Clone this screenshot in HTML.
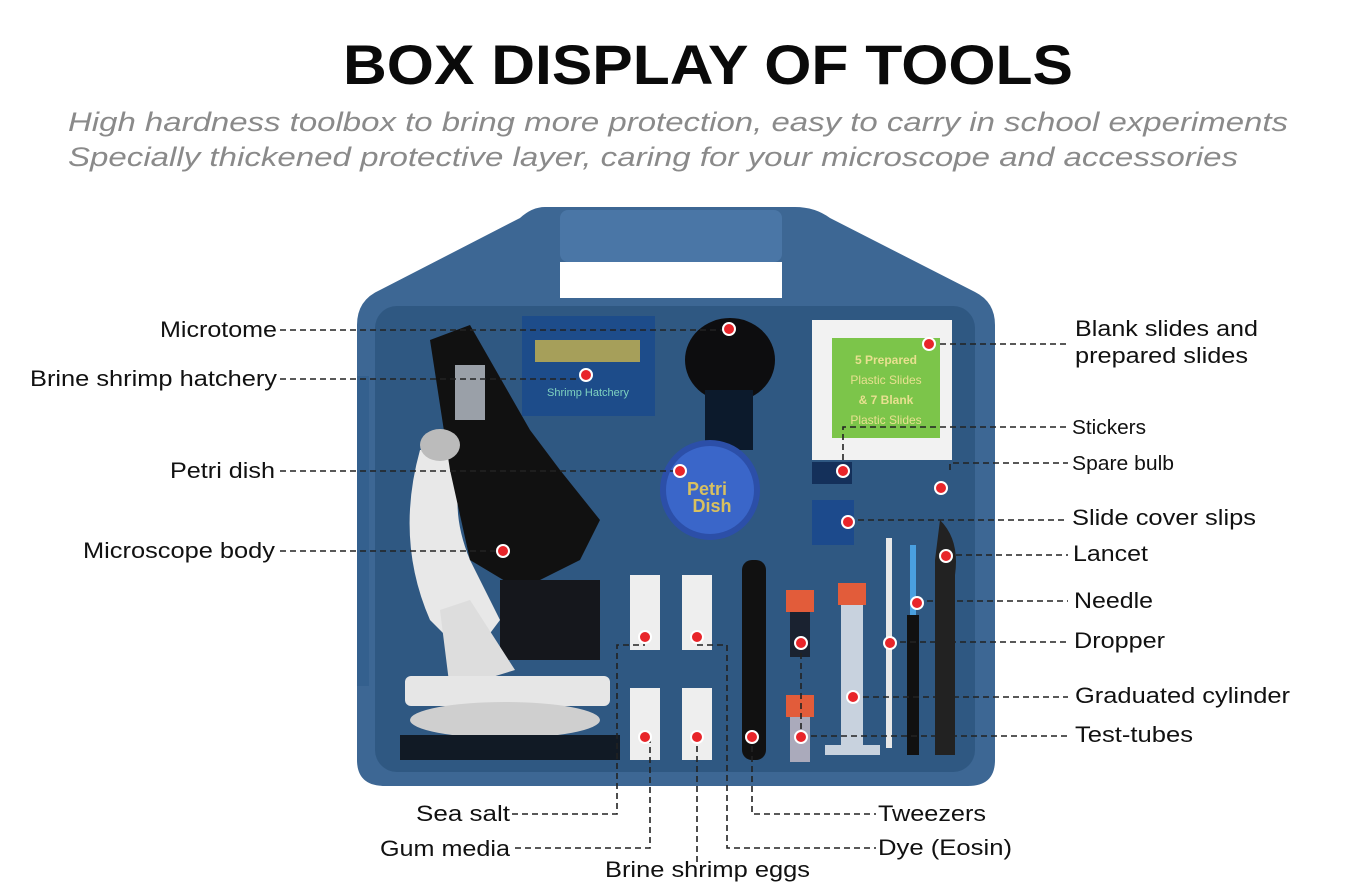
<!DOCTYPE html>
<html><head><meta charset="utf-8"><style>
html,body{margin:0;padding:0;background:#fff;}
svg{display:block;}
text{font-family:"Liberation Sans",sans-serif;}
</style></head><body>
<svg width="1366" height="894" viewBox="0 0 1366 894" xmlns="http://www.w3.org/2000/svg">
<rect width="1366" height="894" fill="#fff"/>
<text x="708" y="84" font-size="56" font-weight="bold" text-anchor="middle" textLength="730" lengthAdjust="spacingAndGlyphs" fill="#0a0a0a">BOX DISPLAY OF TOOLS</text>
<text x="68" y="131" font-size="27" font-style="italic" textLength="1220" lengthAdjust="spacingAndGlyphs" fill="#8a8a8a">High hardness toolbox to bring more protection, easy to carry in school experiments</text>
<text x="68" y="166" font-size="27" font-style="italic" textLength="1170" lengthAdjust="spacingAndGlyphs" fill="#8a8a8a">Specially thickened protective layer, caring for your microscope and accessories</text>

<!-- case -->
<path d="M545,207 L795,207 Q815,207 830,218 L975,292 Q995,302 995,325 L995,760 Q995,786 968,786 L385,786 Q357,786 357,760 L357,325 Q357,300 380,290 L520,218 Q532,207 545,207 Z" fill="#3d6794"/>
<rect x="560" y="210" width="222" height="52" rx="8" fill="#4a76a6"/>
<rect x="560" y="262" width="222" height="36" fill="#fff"/>
<rect x="375" y="306" width="600" height="466" rx="22" fill="#2f5882"/>
<rect x="357" y="376" width="12" height="310" fill="#34608e"/>
<!-- microscope -->
<path d="M420,450 Q395,540 430,620 L470,660 L500,620 L470,560 Q445,500 470,450 Z" fill="#e8e8e8"/>
<path d="M430,340 L470,325 L530,430 L560,470 L600,520 L580,560 L520,590 L470,560 L450,470 Z" fill="#111"/>
<rect x="500" y="580" width="100" height="80" fill="#15171c"/>
<path d="M440,610 L470,600 L515,670 L450,690 Z" fill="#ddd"/>
<ellipse cx="440" cy="445" rx="20" ry="16" fill="#bbb"/>
<rect x="455" y="365" width="30" height="55" fill="#9aa0a8"/>
<rect x="405" y="676" width="205" height="30" rx="6" fill="#e6e6e6"/>
<ellipse cx="505" cy="720" rx="95" ry="18" fill="#cfcfcf"/>
<rect x="400" y="735" width="220" height="25" fill="#111a25"/>
<!-- hatchery box -->
<rect x="522" y="316" width="133" height="100" fill="#1d4c8a"/>
<rect x="535" y="340" width="105" height="22" fill="#c9b44e" opacity=".8"/>
<text x="588" y="396" font-size="11" fill="#7fd2c0" text-anchor="middle" font-family="Liberation Serif">Shrimp Hatchery</text>
<!-- microtome -->
<ellipse cx="730" cy="360" rx="45" ry="42" fill="#0d0d0f"/>
<rect x="705" y="390" width="48" height="60" fill="#0c1a2c"/>
<!-- petri -->
<circle cx="710" cy="490" r="50" fill="#2c4fa8"/>
<circle cx="710" cy="490" r="44" fill="#3a66c9"/>
<text x="707" y="495" font-size="18" font-weight="bold" fill="#d8c060" text-anchor="middle" font-family="Liberation Serif">Petri</text>
<text x="712" y="512" font-size="18" font-weight="bold" fill="#d8c060" text-anchor="middle" font-family="Liberation Serif">Dish</text>
<!-- slides -->
<rect x="812" y="320" width="140" height="140" fill="#f2f2f2"/>
<rect x="832" y="338" width="108" height="100" fill="#7cc54a"/>
<text x="886" y="364" font-size="12" fill="#e8e090" text-anchor="middle" font-family="Liberation Serif" font-weight="bold">5 Prepared</text>
<text x="886" y="384" font-size="12" fill="#e8e090" text-anchor="middle" font-family="Liberation Serif">Plastic Slides</text>
<text x="886" y="404" font-size="12" fill="#e8e090" text-anchor="middle" font-family="Liberation Serif" font-weight="bold">&amp; 7 Blank</text>
<text x="886" y="424" font-size="12" fill="#e8e090" text-anchor="middle" font-family="Liberation Serif">Plastic Slides</text>
<rect x="812" y="462" width="40" height="22" fill="#14305a"/>
<rect x="812" y="500" width="42" height="45" fill="#1c4a8c"/>
<!-- bottles -->
<g fill="#eeeeee"><rect x="630" y="575" width="30" height="75"/><rect x="682" y="575" width="30" height="75"/><rect x="630" y="688" width="30" height="72"/><rect x="682" y="688" width="30" height="72"/></g>
<rect x="742" y="560" width="24" height="200" rx="10" fill="#111"/>
<rect x="786" y="590" width="28" height="22" fill="#e25c3a"/><rect x="790" y="612" width="20" height="45" fill="#1a2230"/>
<rect x="786" y="695" width="28" height="22" fill="#e25c3a"/><rect x="790" y="717" width="20" height="45" fill="#aab"/>
<rect x="838" y="583" width="28" height="22" fill="#e25c3a"/><rect x="841" y="605" width="22" height="140" fill="#c8d2de"/>
<rect x="825" y="745" width="55" height="10" fill="#c8d2de"/>
<rect x="886" y="538" width="6" height="210" fill="#e8e8e8"/>
<rect x="910" y="545" width="6" height="70" fill="#4aa0e0"/><rect x="907" y="615" width="12" height="140" fill="#111"/>
<path d="M940,520 Q960,540 955,575 L955,755 L935,755 L935,560 Z" fill="#222"/>

<!-- connectors -->
<g stroke="#222" stroke-width="1.6" stroke-dasharray="6,4" fill="none">
<path d="M280,330 H728"/><path d="M280,379 H586"/><path d="M280,471 H680"/><path d="M280,551 H503"/>
<path d="M940,344 H1070"/><path d="M843,470 V427 H1068"/><path d="M950,470 V463 H1068"/>
<path d="M848,520 H1068"/><path d="M946,555 H1068"/><path d="M917,601 H1068"/><path d="M890,642 H1068"/>
<path d="M853,697 H1068"/><path d="M801,736 H1068"/><path d="M801,643 V736"/>
<path d="M512,814 H617 V645 H645"/><path d="M515,848 H650 V736"/><path d="M697,736 V862"/>
<path d="M697,645 H727 V848 H876"/><path d="M752,736 V814 H876"/>
</g>
<!-- dots -->
<g fill="#e8252a" stroke="#fff" stroke-width="2">
<circle cx="729" cy="329" r="6"/><circle cx="586" cy="375" r="6"/><circle cx="680" cy="471" r="6"/><circle cx="503" cy="551" r="6"/>
<circle cx="929" cy="344" r="6"/><circle cx="843" cy="471" r="6"/><circle cx="941" cy="488" r="6"/><circle cx="848" cy="522" r="6"/>
<circle cx="946" cy="556" r="6"/><circle cx="917" cy="603" r="6"/><circle cx="890" cy="643" r="6"/><circle cx="853" cy="697" r="6"/>
<circle cx="801" cy="737" r="6"/><circle cx="801" cy="643" r="6"/><circle cx="752" cy="737" r="6"/>
<circle cx="645" cy="637" r="6"/><circle cx="697" cy="637" r="6"/><circle cx="645" cy="737" r="6"/><circle cx="697" cy="737" r="6"/>
</g>
<!-- labels -->
<g font-size="22" fill="#111">
<text x="160" y="337" textLength="117" lengthAdjust="spacingAndGlyphs">Microtome</text>
<text x="30" y="386" textLength="247" lengthAdjust="spacingAndGlyphs">Brine shrimp hatchery</text>
<text x="170" y="478" textLength="105" lengthAdjust="spacingAndGlyphs">Petri dish</text>
<text x="83" y="558" textLength="192" lengthAdjust="spacingAndGlyphs">Microscope body</text>
<text x="1075" y="336" textLength="183" lengthAdjust="spacingAndGlyphs">Blank slides and</text>
<text x="1075" y="363" textLength="173" lengthAdjust="spacingAndGlyphs">prepared slides</text>
<text x="1072" y="434" font-size="20" textLength="74" lengthAdjust="spacingAndGlyphs">Stickers</text>
<text x="1072" y="470" font-size="20" textLength="102" lengthAdjust="spacingAndGlyphs">Spare bulb</text>
<text x="1072" y="525" textLength="184" lengthAdjust="spacingAndGlyphs">Slide cover slips</text>
<text x="1073" y="561" textLength="75" lengthAdjust="spacingAndGlyphs">Lancet</text>
<text x="1074" y="608" textLength="79" lengthAdjust="spacingAndGlyphs">Needle</text>
<text x="1074" y="648" textLength="91" lengthAdjust="spacingAndGlyphs">Dropper</text>
<text x="1075" y="703" textLength="215" lengthAdjust="spacingAndGlyphs">Graduated cylinder</text>
<text x="1075" y="742" textLength="118" lengthAdjust="spacingAndGlyphs">Test-tubes</text>
<text x="416" y="821" textLength="94" lengthAdjust="spacingAndGlyphs">Sea salt</text>
<text x="380" y="856" textLength="130" lengthAdjust="spacingAndGlyphs">Gum media</text>
<text x="605" y="877" textLength="205" lengthAdjust="spacingAndGlyphs">Brine shrimp eggs</text>
<text x="878" y="821" textLength="108" lengthAdjust="spacingAndGlyphs">Tweezers</text>
<text x="878" y="855" textLength="134" lengthAdjust="spacingAndGlyphs">Dye (Eosin)</text>
</g>
</svg>
</body></html>
